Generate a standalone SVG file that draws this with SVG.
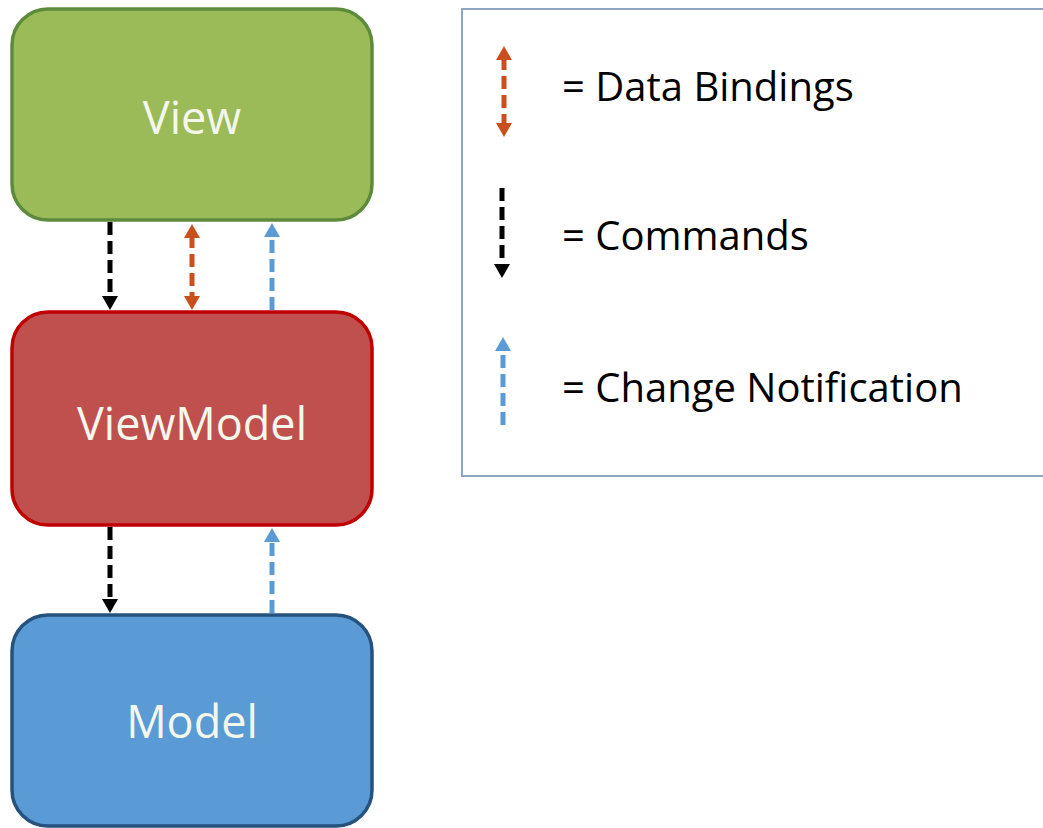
<svg xmlns="http://www.w3.org/2000/svg" width="1043" height="828" viewBox="0 0 1043 828">
<style>
.node-label{font-family:"Open Sans","Liberation Sans",sans-serif;font-size:45px;fill:#F4F7EC;text-anchor:middle}
.legend-label{font-family:"Open Sans","Liberation Sans",sans-serif;font-size:40px;fill:#000}
.conn{stroke-width:5;stroke-dasharray:13 6;fill:none}
.black{stroke:#000}
.orange{stroke:#C9501C}
.blue{stroke:#5B9BD5}
</style>
<defs>
<marker id="ah-black" viewBox="0 0 14 16" refX="3" refY="8" markerWidth="14" markerHeight="16" markerUnits="userSpaceOnUse" orient="auto-start-reverse"><path d="M0,0 L14,8 L0,16 z" fill="#000"/></marker>
<marker id="ah-orange" viewBox="0 0 14 16" refX="3" refY="8" markerWidth="14" markerHeight="16" markerUnits="userSpaceOnUse" orient="auto-start-reverse"><path d="M0,0 L14,8 L0,16 z" fill="#C9501C"/></marker>
<marker id="ah-blue" viewBox="0 0 14 16" refX="3" refY="8" markerWidth="14" markerHeight="16" markerUnits="userSpaceOnUse" orient="auto-start-reverse"><path d="M0,0 L14,8 L0,16 z" fill="#5B9BD5"/></marker>
</defs>
<rect width="1043" height="828" fill="#fff"/>
<g id="view">
<rect x="12" y="9" width="360" height="211" rx="36" fill="#9BBB59" stroke="#5E8A3C" stroke-width="3.5"/>
<text class="node-label" x="192" y="134">View</text>
</g>
<g id="viewmodel">
<rect x="12" y="312" width="360" height="213" rx="36" fill="#C0504D" stroke="#C00000" stroke-width="3.5"/>
<text class="node-label" x="192" y="440">ViewModel</text>
</g>
<g id="model">
<rect x="12" y="615" width="360" height="211" rx="36" fill="#5B9BD5" stroke="#26527E" stroke-width="3.5"/>
<text class="node-label" x="192" y="738">Model</text>
</g>
<g id="legend">
<rect x="462" y="9" width="582" height="467" fill="#fff" stroke="#8EA6BE" stroke-width="2"/>
<line class="conn orange" x1="504" y1="57" x2="504" y2="126" marker-start="url(#ah-orange)" marker-end="url(#ah-orange)"/>
<text class="legend-label" x="562" y="101">= Data Bindings</text>
<line class="conn black" x1="502" y1="188" x2="502" y2="267" marker-end="url(#ah-black)"/>
<text class="legend-label" x="562" y="250">= Commands</text>
<line class="conn blue" x1="503" y1="425" x2="503" y2="348" marker-end="url(#ah-blue)"/>
<text class="legend-label" x="562" y="402">= Change Notification</text>
</g>
<g id="connectors">
<line class="conn black" x1="110" y1="222" x2="110" y2="299" marker-end="url(#ah-black)"/>
<line class="conn orange" x1="192" y1="235" x2="192" y2="299" marker-start="url(#ah-orange)" marker-end="url(#ah-orange)"/>
<line class="conn blue" x1="272" y1="310" x2="272" y2="234" marker-end="url(#ah-blue)"/>
<line class="conn black" x1="110" y1="527" x2="110" y2="602" marker-end="url(#ah-black)"/>
<line class="conn blue" x1="272" y1="613" x2="272" y2="539" marker-end="url(#ah-blue)"/>
</g>
</svg>
